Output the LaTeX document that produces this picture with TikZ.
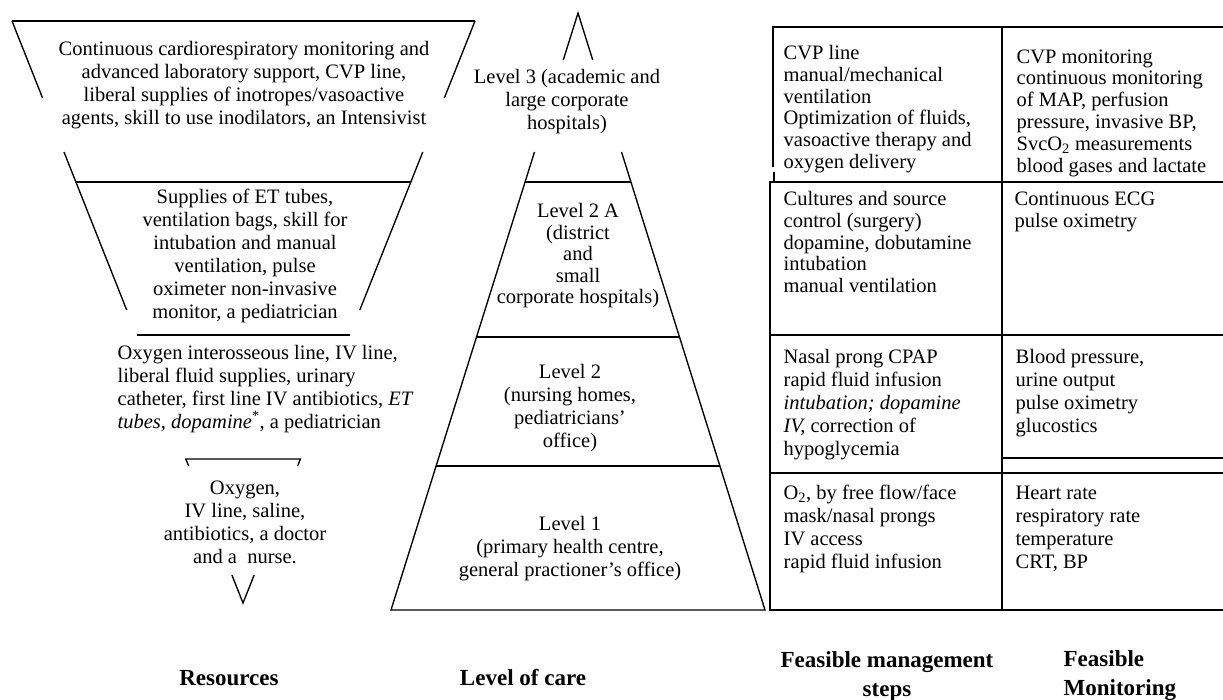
\documentclass[tikz,border=0pt]{standalone}
\usepackage{fontspec}
\setmainfont{Liberation Serif}
\usetikzlibrary{calc}
\begin{document}
\begin{tikzpicture}[x=1pt,y=-1pt,line width=1.35pt,
  txt/.style={font=\fontsize{20.5}{23}\selectfont, inner sep=0pt, align=center},
  tbl/.style={font=\fontsize{20.5}{21.8}\selectfont, inner sep=0pt, align=left, anchor=west},
  tblw/.style={tbl, font=\fontsize{20.5}{23}\selectfont},
  lbl/.style={font=\fontsize{23}{29}\selectfont\bfseries, inner sep=0pt}]
\useasboundingbox (0,0) rectangle (1223,699);

% ---- Resources: inverted triangle ----
\coordinate (TL) at (12,21);
\coordinate (TR) at (475,21);
\coordinate (A) at (243,603);
\draw (TL) -- (TR);
\draw (TL) -- ($(TL)!0.1323!(A)$);
\draw (TR) -- ($(TR)!0.1323!(A)$);
\draw ($(TL)!0.2251!(A)$) -- ($(TL)!0.4966!(A)$);
\draw ($(TR)!0.2251!(A)$) -- ($(TR)!0.4966!(A)$);
\draw ($(TL)!0.2766!(A)$) -- ($(TR)!0.2766!(A)$);
\draw ($(TL)!0.5395!(A)$) -- ($(TR)!0.5395!(A)$);
\draw ($(TL)!0.7646!(A)$) -- ($(TL)!0.7526!(A)$) -- ($(TR)!0.7526!(A)$) -- ($(TR)!0.7646!(A)$);
\draw ($(TL)!0.9519!(A)$) -- (A) -- ($(TR)!0.9519!(A)$);

% ---- Level of care: pyramid ----
\coordinate (P) at (578,13);
\coordinate (BL) at (391,610);
\coordinate (BR) at (765,610);
\draw ($(P)!0.0787!(BL)$) -- (P) -- ($(P)!0.0787!(BR)$);
\draw ($(P)!0.2328!(BL)$) -- (BL) -- (BR) -- ($(P)!0.2328!(BR)$);
\draw ($(P)!0.2831!(BL)$) -- ($(P)!0.2831!(BR)$);
\draw ($(P)!0.5427!(BL)$) -- ($(P)!0.5427!(BR)$);
\draw ($(P)!0.7588!(BL)$) -- ($(P)!0.7588!(BR)$);

% ---- Table ----
\coordinate (T0) at (773,27);
\coordinate (TE) at (1223,27);
\draw (773,167) -- (T0) -- (TE);
\draw (774,172) -- (774,182);
\draw (1223,182) -- (770,182) -- (770,610) -- (1223,610);
\draw (1002,27) -- (1002,610);
\draw (770,335) -- (1223,335);
\draw (1002,458) -- (1223,458);
\draw (770,473) -- (1223,473);

% ---- Resources texts ----
\node[txt] (r3) at (244,85) {Continuous cardiorespiratory monitoring and\\advanced laboratory support, CVP line,\\liberal supplies of inotropes/vasoactive\\agents, skill to use inodilators, an Intensivist};
\node[txt] (r2a) at (245,256) {Supplies of ET tubes,\\ventilation bags, skill for\\intubation and manual\\ventilation, pulse\\oximeter non-invasive\\monitor, a pediatrician};
\node[txt, align=left, anchor=west] (r2) at (117,389) {Oxygen interosseous line, IV line,\\liberal fluid supplies, urinary\\catheter, first line IV antibiotics, \textit{ET}\\\textit{tubes, dopamine}\textsuperscript{*}, a pediatrician};
\node[txt] (r1) at (245,522) {Oxygen,\\IV line, saline,\\antibiotics, a doctor\\and a~ nurse.};

% ---- Level texts ----
\node[txt] (l3) at (567,102) {Level 3 (academic and\\large corporate\\hospitals)};
\node[txt, font=\fontsize{20.5}{21.5}\selectfont] (l2a) at (578,256) {Level 2 A\\(district\\and\\small\\corporate hospitals)};
\node[txt] (l2) at (570,408) {Level 2\\(nursing homes,\\pediatricians'\\office)};
\node[txt] (l1) at (570,549) {Level 1\\(primary health centre,\\general practioner's office)};

% ---- Table texts ----
\node[tbl] (m3) at (783,109) {CVP line\\manual/mechanical\\ventilation\\Optimization of fluids,\\vasoactive therapy and\\oxygen delivery};
\node[tbl] (f3) at (1016,113) {CVP monitoring\\continuous monitoring\\of MAP, perfusion\\pressure, invasive BP,\\SvcO\textsubscript{2} measurements\\blood gases and lactate};
\node[tbl] (m2a) at (783,242) {Cultures and source\\control (surgery)\\dopamine, dobutamine\\intubation\\manual ventilation};
\node[tbl] (f2a) at (1014,212) {Continuous ECG\\pulse oximetry};
\node[tblw] (m2) at (783,405) {Nasal prong CPAP\\rapid fluid infusion\\\textit{intubation; dopamine}\\\textit{IV,} correction of\\hypoglycemia};
\node[tblw] (f2) at (1015,393) {Blood pressure,\\urine output\\pulse oximetry\\glucostics};
\node[tblw] (m1) at (783,529) {O\textsubscript{2}, by free flow/face\\mask/nasal prongs\\IV access\\rapid fluid infusion};
\node[tblw] (f1) at (1015,529) {Heart rate\\respiratory rate\\temperature\\CRT, BP};

% ---- Column labels ----
\node[lbl] (lres) at (229,678) {Resources};
\node[lbl] (lloc) at (523,678) {Level of care};
\node[lbl, align=center] (lman) at (887,676) {Feasible management\\steps};
\node[lbl, align=left, anchor=west] (lmon) at (1063,676) {Feasible\\Monitoring};
\end{tikzpicture}
\end{document}
